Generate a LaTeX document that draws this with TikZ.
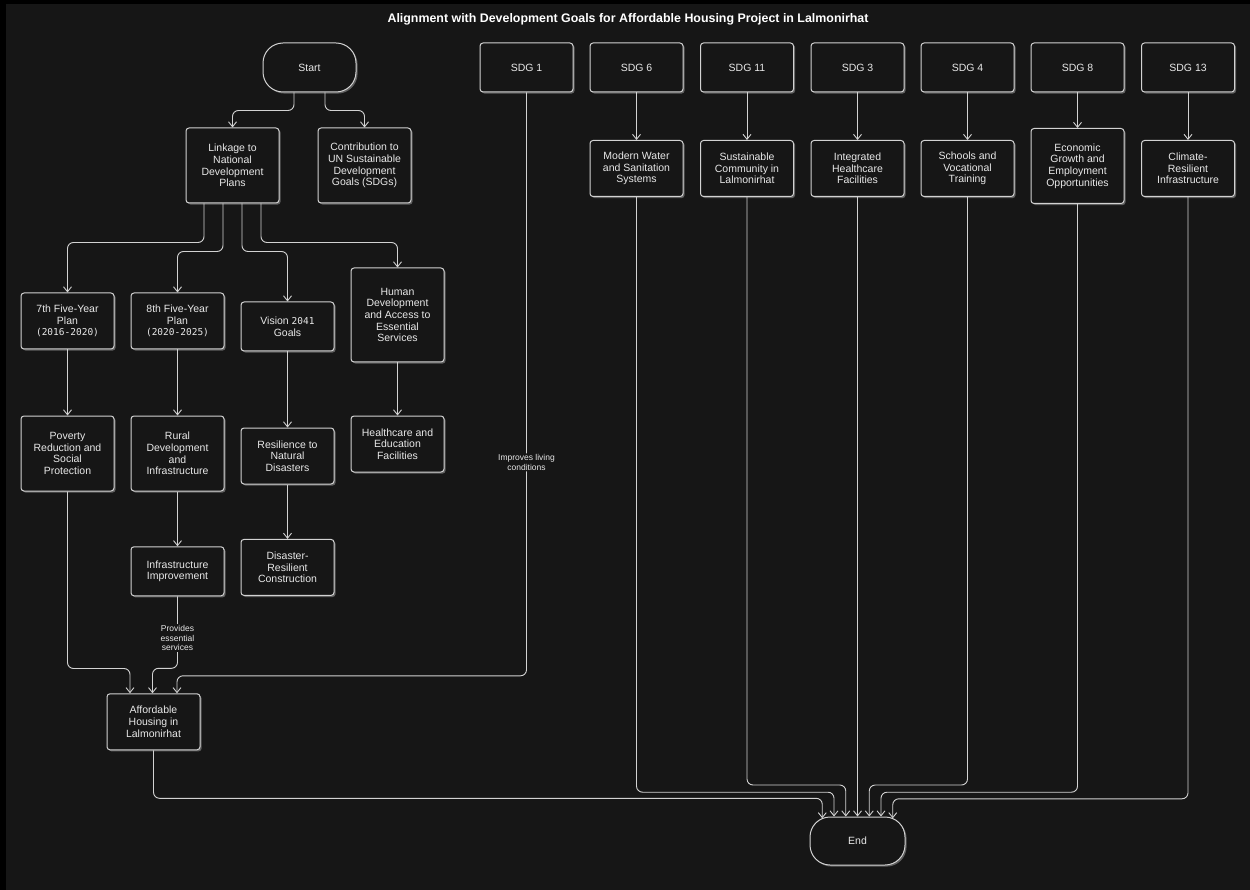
\documentclass[tikz,border=0pt]{standalone}
\usepackage{fontspec}
\setmainfont{Liberation Sans}
\newfontfamily\digitfont{DejaVu Sans Mono}
\usetikzlibrary{arrows.meta,shadows,calc}

\definecolor{bgc}{HTML}{161616}
\definecolor{edgec}{HTML}{D2D2D2}
\definecolor{txtc}{HTML}{E8E8E8}
\definecolor{shadc}{HTML}{5E5E5E}

\newcommand{\yrs}[1]{{\digitfont\fontsize{9.5}{11.7}\selectfont #1}}

\tikzset{
  box/.style={draw=edgec, line width=1pt, fill=bgc, rounded corners=3pt,
    text=txtc, minimum width=93pt, align=center, inner sep=0pt,
    font=\fontsize{10.5}{11.7}\selectfont,
    drop shadow={shadow xshift=1.6pt, shadow yshift=-1.6pt, fill=shadc, opacity=1}},
  pill/.style={box, rounded corners=20pt},
  hA/.style={minimum height=49pt},
  hB/.style={minimum height=56pt},
  hC/.style={minimum height=75pt},
  hD/.style={minimum height=94pt},
  flow/.style={draw=edgec, line width=0.9pt, rounded corners=6pt,
    -{Straight Barb[length=5pt,width=8pt]}},
  lbl/.style={fill=bgc, text=txtc, font=\fontsize{8.5}{9.7}\selectfont,
    align=center, inner sep=1pt}
}

\begin{document}
\begin{tikzpicture}[x=1pt, y=-1pt]
  % canvas
  \useasboundingbox (0,0) rectangle (1250,890);
  \fill[black] (0,0) rectangle (1250,890);
  \fill[bgc] (6,4) rectangle (1250,890);

  % heading
  \node[text=white, font=\bfseries\fontsize{12.4}{14}\selectfont] (title) at (628,19)
    {Alignment with Development Goals for Affordable Housing Project in Lalmonirhat};

  % national plans branch
  \node[pill, hA] (start) at (309.5,67.5) {Start};
  \node[box, hC] (link) at (232.5,165.5) {Linkage to\\National\\Development\\Plans};
  \node[box, hC] (contrib) at (364.5,165.5) {Contribution to\\UN Sustainable\\Development\\Goals (SDGs)};

  \node[box, hB] (p7) at (67.5,321) {7th Five-Year\\Plan\\\yrs{(2016-2020)}};
  \node[box, hB] (p8) at (177.5,321) {8th Five-Year\\Plan\\\yrs{(2020-2025)}};
  \node[box, hA] (vis) at (287.5,326.5) {Vision \yrs{2041}\\Goals};
  \node[box, hD] (hum) at (397.5,315) {Human\\Development\\and Access to\\Essential\\Services};

  \node[box, hC] (pov) at (67.5,453.5) {Poverty\\Reduction and\\Social\\Protection};
  \node[box, hC] (rur) at (177.5,453.5) {Rural\\Development\\and\\Infrastructure};
  \node[box, hB] (res) at (287.5,456) {Resilience to\\Natural\\Disasters};
  \node[box, hB] (hed) at (397.5,444) {Healthcare and\\Education\\Facilities};

  \node[box, hA] (inf) at (177.5,571.3) {Infrastructure\\Improvement};
  \node[box, hB] (dis) at (287.5,567.4) {Disaster-\\Resilient\\Construction};

  \node[box, hB] (aff) at (153.5,721.8) {Affordable\\Housing in\\Lalmonirhat};

  % SDG columns
  \node[box, hA] (sdg1) at (526.5,67.5) {SDG 1};
  \node[box, hA] (sdg6) at (636.5,67.5) {SDG 6};
  \node[box, hA] (sdg11) at (747,67.5) {SDG 11};
  \node[box, hA] (sdg3) at (857.5,67.5) {SDG 3};
  \node[box, hA] (sdg4) at (967.5,67.5) {SDG 4};
  \node[box, hA] (sdg8) at (1077.5,67.5) {SDG 8};
  \node[box, hA] (sdg13) at (1188,67.5) {SDG 13};

  \node[box, hB] (water) at (636.5,168.5) {Modern Water\\and Sanitation\\Systems};
  \node[box, hB] (comm) at (747,168.5) {Sustainable\\Community in\\Lalmonirhat};
  \node[box, hB] (health) at (857.5,168.5) {Integrated\\Healthcare\\Facilities};
  \node[box, hB] (school) at (967.5,168.5) {Schools and\\Vocational\\Training};
  \node[box, hC] (econ) at (1077.5,166) {Economic\\Growth and\\Employment\\Opportunities};
  \node[box, hB] (climate) at (1188,168.5) {Climate-\\Resilient\\Infrastructure};

  \node[pill, minimum width=95pt, minimum height=48pt] (end) at (857.5,841) {End};

  % connectors: national plans
  \draw[flow] ([xshift=-15.5pt]start.south) -- ++(0,18) -| (link.north);
  \draw[flow] ([xshift=15.5pt]start.south) -- ++(0,18) -| (contrib.north);
  \draw[flow] ([xshift=-28.5pt]link.south) -- ++(0,39) -| (p7.north);
  \draw[flow] ([xshift=-9.5pt]link.south) -- ++(0,48) -| (p8.north);
  \draw[flow] ([xshift=9.5pt]link.south) -- ++(0,48) -| (vis.north);
  \draw[flow] ([xshift=28.5pt]link.south) -- ++(0,39) -| (hum.north);

  \draw[flow] (p7) -- (pov);
  \draw[flow] (p8) -- (rur);
  \draw[flow] (vis) -- (res);
  \draw[flow] (hum) -- (hed);
  \draw[flow] (rur) -- (inf);
  \draw[flow] (res) -- (dis);

  \draw[flow] (pov.south) -- ++(0,177) -| ([xshift=-23.5pt]aff.north);
  \draw[flow] (inf.south) -- ++(0,72) node[lbl, pos=0.58] {Provides\\essential\\services}
    -| ([xshift=-1pt]aff.north);
  \draw[flow] (sdg1.south) -- ++(0,583.3) node[lbl, pos=0.634] {Improves living\\conditions}
    -| ([xshift=23.5pt]aff.north);

  % connectors: SDG columns
  \draw[flow] (sdg6) -- (water);
  \draw[flow] (sdg11) -- (comm);
  \draw[flow] (sdg3) -- (health);
  \draw[flow] (sdg4) -- (school);
  \draw[flow] (sdg8) -- (econ);
  \draw[flow] (sdg13) -- (climate);

  % connectors into End
  \draw[flow] (aff.south) -- ++(0,48) -| ([xshift=-35.25pt,yshift=-1.8pt]end.north);
  \draw[flow] (water.south) -- ++(0,595.2) -| ([xshift=-23.5pt]end.north);
  \draw[flow] (comm.south) -- ++(0,588) -| ([xshift=-11.75pt]end.north);
  \draw[flow] (health) -- (end);
  \draw[flow] (school.south) -- ++(0,588) -| ([xshift=11.75pt]end.north);
  \draw[flow] (econ.south) -- ++(0,588.2) -| ([xshift=23.5pt]end.north);
  \draw[flow] (climate.south) -- ++(0,601.8) -| ([xshift=35.25pt,yshift=-1.8pt]end.north);
\end{tikzpicture}
\end{document}
